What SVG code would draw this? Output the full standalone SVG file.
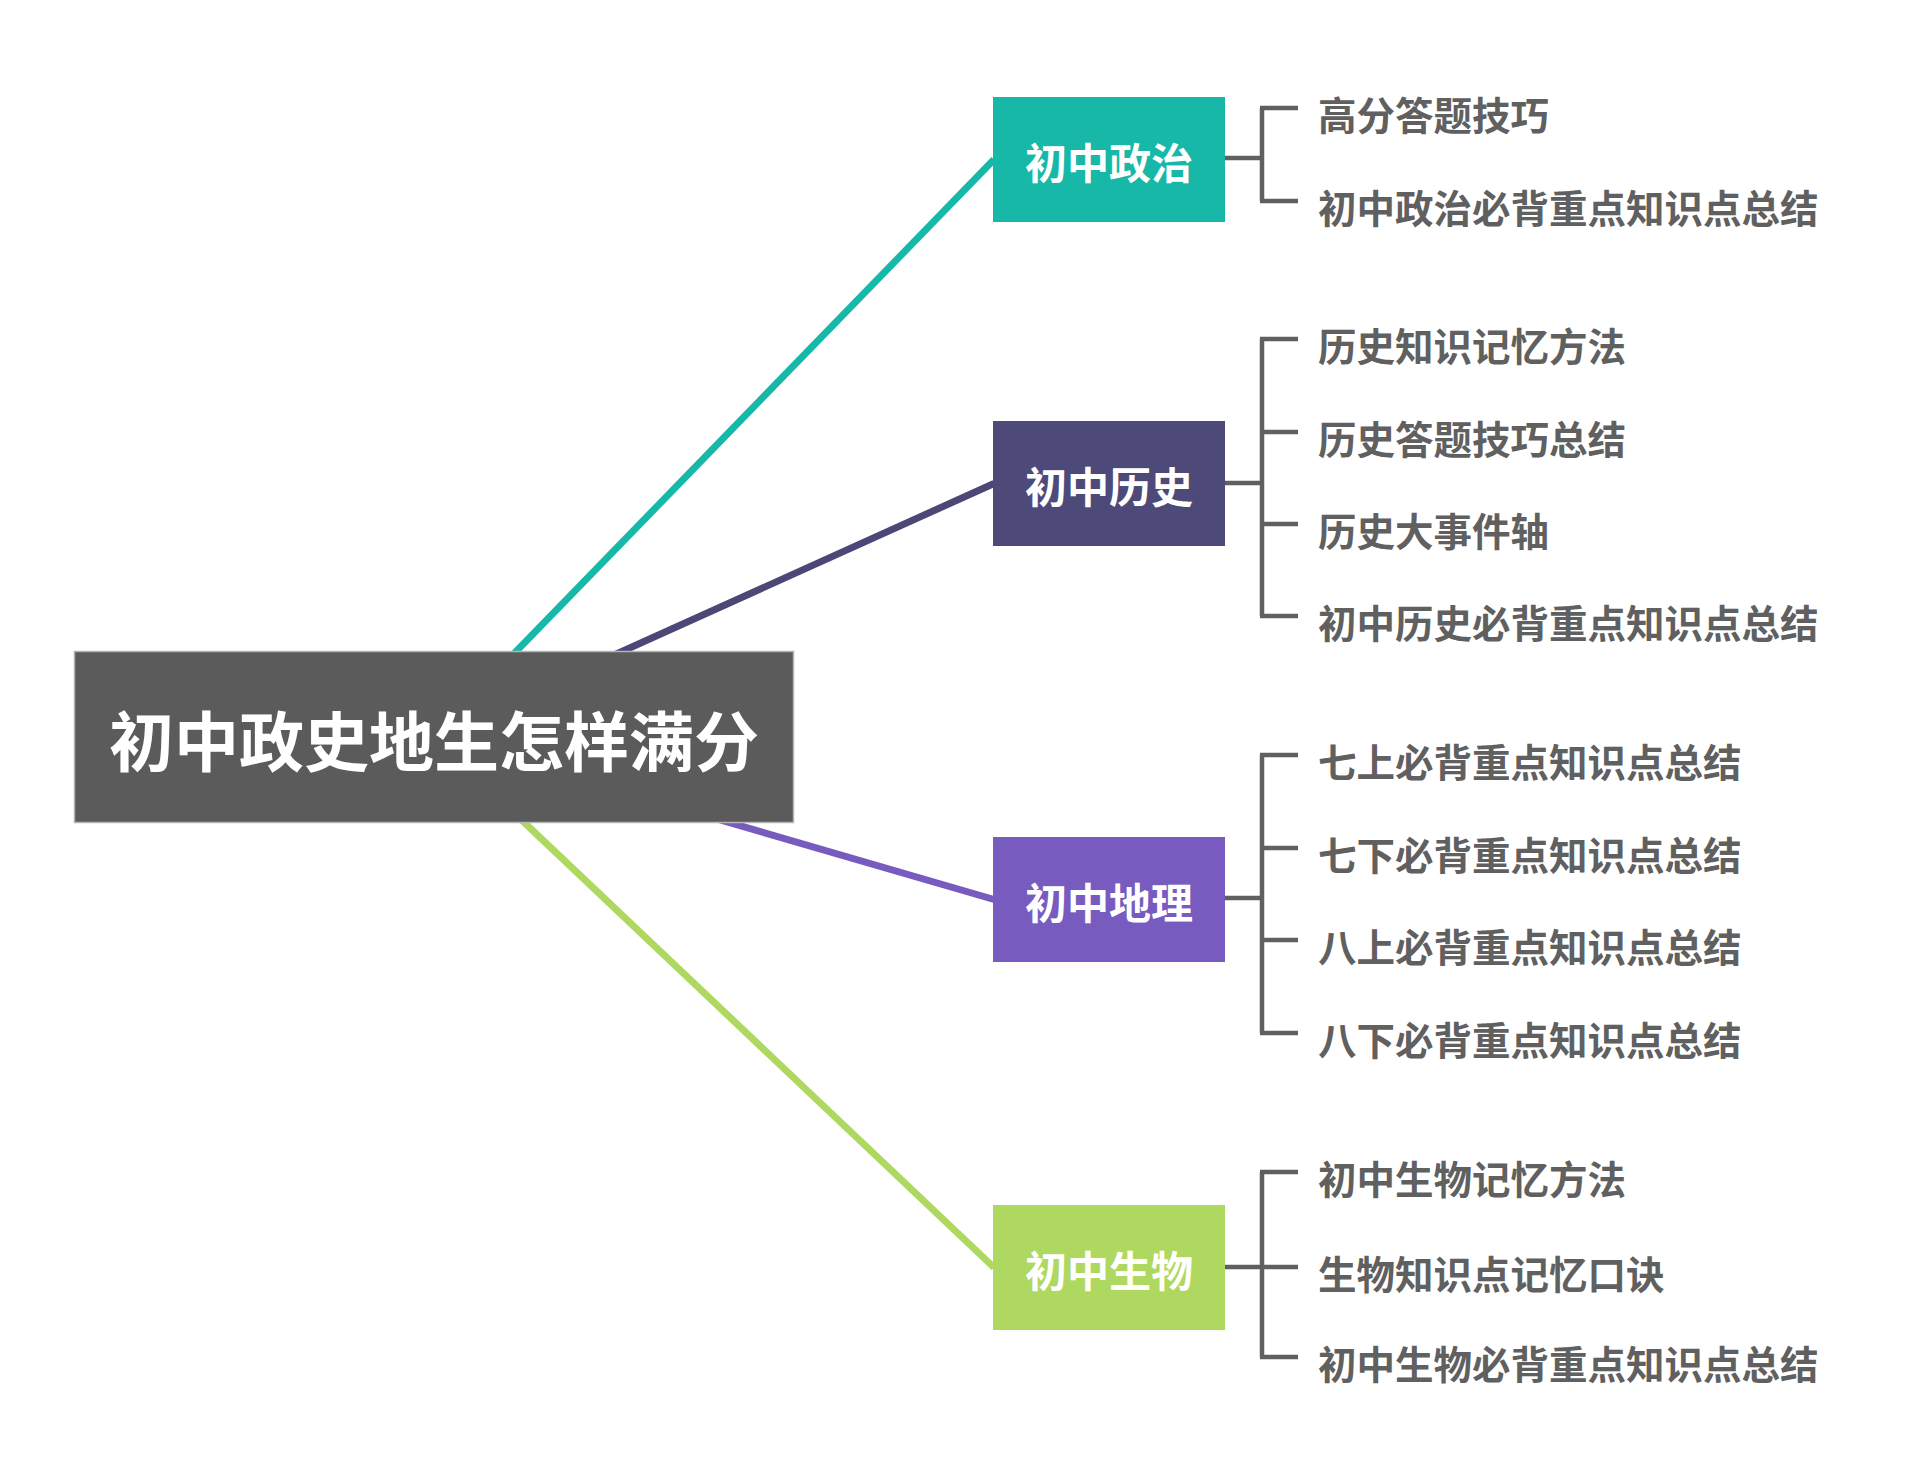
<svg xmlns="http://www.w3.org/2000/svg" width="1920" height="1474" viewBox="0 0 1920 1474">
<style>
.bg{fill:#ffffff}
.link{fill:none;stroke-width:7;stroke-linecap:butt}
.br{fill:none;stroke:#606060;stroke-width:4.5;stroke-linecap:butt}
.t1{font-family:"Noto Sans CJK SC","Noto Sans",sans-serif;font-weight:700;font-size:42px;fill:#ffffff;text-anchor:middle}
.t2{font-family:"Noto Sans CJK SC","Noto Sans",sans-serif;font-weight:700;font-size:38.5px;fill:#606060}
.t0{font-family:"Noto Sans CJK SC","Noto Sans",sans-serif;font-weight:700;font-size:65px;fill:#ffffff;text-anchor:middle}
</style>
<rect class="bg" x="0" y="0" width="1920" height="1474"/>
<g id="connectors">
<line class="link" x1="433.5" y1="736.5" x2="994" y2="159.5" stroke="#17b8a7"/>
<line class="link" x1="433.5" y1="736.5" x2="994" y2="483.5" stroke="#4b4878"/>
<line class="link" x1="433.5" y1="736.5" x2="994" y2="899.5" stroke="#785bbf"/>
<line class="link" x1="433.5" y1="736.5" x2="994" y2="1267.5" stroke="#afd860"/>
<path class="br" d="M1225 158H1262M1262 108V201M1260 108H1298M1260 201H1298"/>
<path class="br" d="M1225 483H1262M1262 339V616M1260 339H1298M1260 432H1298M1260 524H1298M1260 616H1298"/>
<path class="br" d="M1225 898H1262M1262 755V1033M1260 755H1298M1260 848H1298M1260 940H1298M1260 1033H1298"/>
<path class="br" d="M1225 1267H1262M1262 1172V1357M1260 1172H1298M1260 1267H1298M1260 1357H1298"/>
</g>
<g id="root">
<rect x="74.5" y="651.5" width="719" height="171" fill="#5b5b5b" stroke="#b5b5b5" stroke-width="1.5"/>
<text class="t0" x="434" y="766">初中政史地生怎样满分</text>
</g>
<g id="n-zhengzhi">
<rect x="993" y="97" width="232" height="125" fill="#17b8a7"/>
<text class="t1" x="1109" y="179">初中政治</text>
</g>
<g id="n-lishi">
<rect x="993" y="421" width="232" height="125" fill="#4d4a7a"/>
<text class="t1" x="1109" y="503">初中历史</text>
</g>
<g id="n-dili">
<rect x="993" y="837" width="232" height="125" fill="#785bbf"/>
<text class="t1" x="1109" y="919">初中地理</text>
</g>
<g id="n-shengwu">
<rect x="993" y="1205" width="232" height="125" fill="#afd860"/>
<text class="t1" x="1109" y="1287">初中生物</text>
</g>
<g id="c-zhengzhi">
<text class="t2" x="1318" y="130">高分答题技巧</text>
<text class="t2" x="1318" y="223">初中政治必背重点知识点总结</text>
</g>
<g id="c-lishi">
<text class="t2" x="1318" y="361">历史知识记忆方法</text>
<text class="t2" x="1318" y="454">历史答题技巧总结</text>
<text class="t2" x="1318" y="546">历史大事件轴</text>
<text class="t2" x="1318" y="638">初中历史必背重点知识点总结</text>
</g>
<g id="c-dili">
<text class="t2" x="1318" y="777">七上必背重点知识点总结</text>
<text class="t2" x="1318" y="870">七下必背重点知识点总结</text>
<text class="t2" x="1318" y="962">八上必背重点知识点总结</text>
<text class="t2" x="1318" y="1055">八下必背重点知识点总结</text>
</g>
<g id="c-shengwu">
<text class="t2" x="1318" y="1194">初中生物记忆方法</text>
<text class="t2" x="1318" y="1289">生物知识点记忆口诀</text>
<text class="t2" x="1318" y="1379">初中生物必背重点知识点总结</text>
</g>
</svg>
